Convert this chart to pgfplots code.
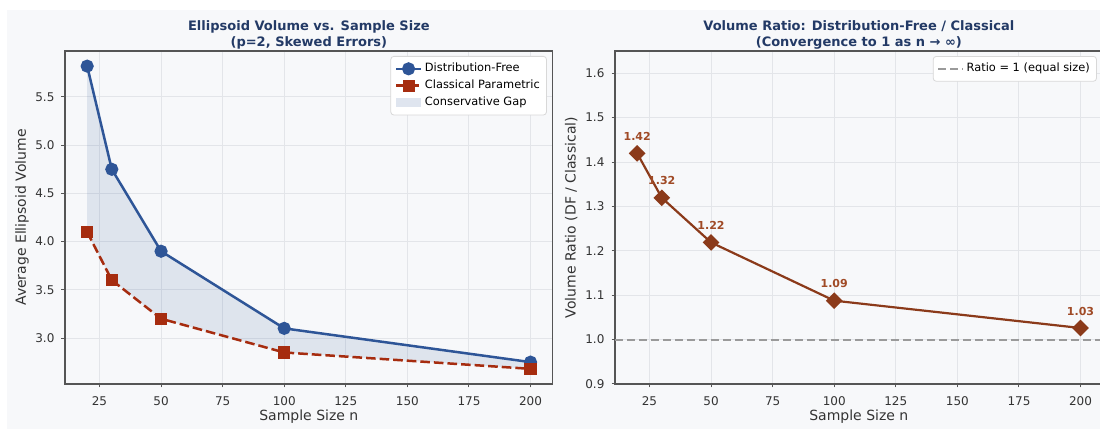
\documentclass[border=0pt]{standalone}
\usepackage{fontspec}
\setmainfont{DejaVu Sans}
\usepackage{pgfplots}
\pgfplotsset{compat=1.18}
\definecolor{bg}{HTML}{F7F8FA}
\definecolor{dfblue}{HTML}{2E5597}
\definecolor{clred}{HTML}{A62C0F}
\definecolor{ratioc}{HTML}{8B3A1A}
\definecolor{annc}{HTML}{A04A26}
\definecolor{titlec}{HTML}{233A66}
\definecolor{gridc}{HTML}{E3E5E9}
\definecolor{spinec}{HTML}{555555}
\definecolor{txtc}{HTML}{333333}
\definecolor{legc}{HTML}{D8D8D8}
\definecolor{refc}{HTML}{9A9A9A}
\pgfplotsset{
  common/.style={
    scale only axis, width=243.85pt, height=166.5pt,
    xmin=11, xmax=209,
    xtick={25,50,75,100,125,150,175,200},
    tick pos=left, tick align=outside,
    major tick length=1.75pt,
    tick style={spinec, line width=0.5pt},
    grid=major, major grid style={gridc, line width=0.5pt},
    axis line style={spinec, line width=0.6pt},
    axis background/.style={fill=bg},
    tick label style={font=\fontsize{6}{7}\selectfont, txtc},
    xticklabel style={yshift=-1pt},
    label style={font=\fontsize{7}{8.4}\selectfont, txtc},
    title style={font=\bfseries\fontsize{6.5}{8}\selectfont, titlec, align=center,
      at={(axis description cs:0.5,1)}, anchor=south, inner sep=0pt, yshift=-5.5pt},
    /pgf/number format/assume math mode=true,
    yticklabel style={/pgf/number format/.cd, fixed, fixed zerofill, precision=1},
    xlabel={Sample Size n},
    xlabel style={at={(axis description cs:0.5,-0.099)}, anchor=center},
    legend style={font=\fontsize{5.7}{6.8}\selectfont, draw=legc, fill=white,
      rounded corners=1.5pt, at={(0.988,0.985)}, anchor=north east,
      row sep=0pt, inner sep=2pt, nodes={inner sep=1.3pt}},
    legend cell align=left,
    legend image code/.code={\draw[mark repeat=2,mark phase=2,##1] plot coordinates {(0pt,0pt) (6.25pt,0pt) (12.5pt,0pt)};},
  }
}
\begin{document}
\begin{tikzpicture}
\fill[white] (0,0) rectangle (550pt,214.5pt);
\fill[bg] (3.5pt,0) rectangle (550pt,209.5pt);

\begin{axis}[common,
  at={(32.5pt,22.5pt)}, anchor=south west,
  ymin=2.523, ymax=5.977,
  ytick={3.0,3.5,4.0,4.5,5.0,5.5},
  ylabel={Average Ellipsoid Volume},
  ylabel style={at={(axis description cs:-0.088,0.5)}, anchor=center},
  title={Ellipsoid Volume vs. Sample Size\\(p=2, Skewed Errors)},
]
\addplot[fill=dfblue, fill opacity=0.12, draw=none, forget plot]
  coordinates {(20,5.82) (30,4.75) (50,3.90) (100,3.10) (200,2.75)
               (200,2.68) (100,2.85) (50,3.20) (30,3.60) (20,4.10)} -- cycle;
\addplot[dfblue, line width=1.25pt, mark=*, mark size=2.65pt, mark options={solid}]
  coordinates {(20,5.82) (30,4.75) (50,3.90) (100,3.10) (200,2.75)};
\addlegendentry{Distribution-Free}
\addplot[clred, line width=1.25pt, dash pattern=on 4.8pt off 2pt, mark=square*, mark size=2.4pt, mark options={solid}]
  coordinates {(20,4.10) (30,3.60) (50,3.20) (100,2.85) (200,2.68)};
\addlegendentry{Classical Parametric}
\addlegendimage{legend image code/.code={\fill[dfblue, fill opacity=0.15, draw=none, sharp corners] (0pt,-2.3pt) rectangle (12.5pt,2.3pt);}}
\addlegendentry{Conservative Gap}
\end{axis}

\begin{axis}[common,
  at={(307.5pt,22.5pt)}, anchor=south west,
  ymin=0.9, ymax=1.65,
  ytick={0.9,1.0,1.1,1.2,1.3,1.4,1.5,1.6},
  ylabel={Volume Ratio (DF / Classical)},
  ylabel style={at={(axis description cs:-0.090,0.5)}, anchor=center},
  title={Volume Ratio: Distribution-Free / Classical\\(Convergence to 1 as n → ∞)},
]
\addplot[refc, line width=0.9pt, dash pattern=on 3.8pt off 2.2pt] coordinates {(11,1) (209,1)};
\addlegendentry{Ratio = 1 (equal size)}
\addplot[ratioc, line width=1.1pt, mark=square*, mark size=2.4pt, mark options={solid, rotate=45},
  point meta=explicit symbolic, nodes near coords,
  every node near coord/.append style={font=\bfseries\fontsize{5.5}{6.6}\selectfont, annc, anchor=center, yshift=8.5pt}]
  coordinates {(20,1.4195) [1.42] (30,1.3194) [1.32] (50,1.2188) [1.22] (100,1.0877) [1.09] (200,1.0261) [1.03]};
\end{axis}
\pgfresetboundingbox
\path[use as bounding box] (0,0) rectangle (550pt,214.5pt);
\end{tikzpicture}
\end{document}
